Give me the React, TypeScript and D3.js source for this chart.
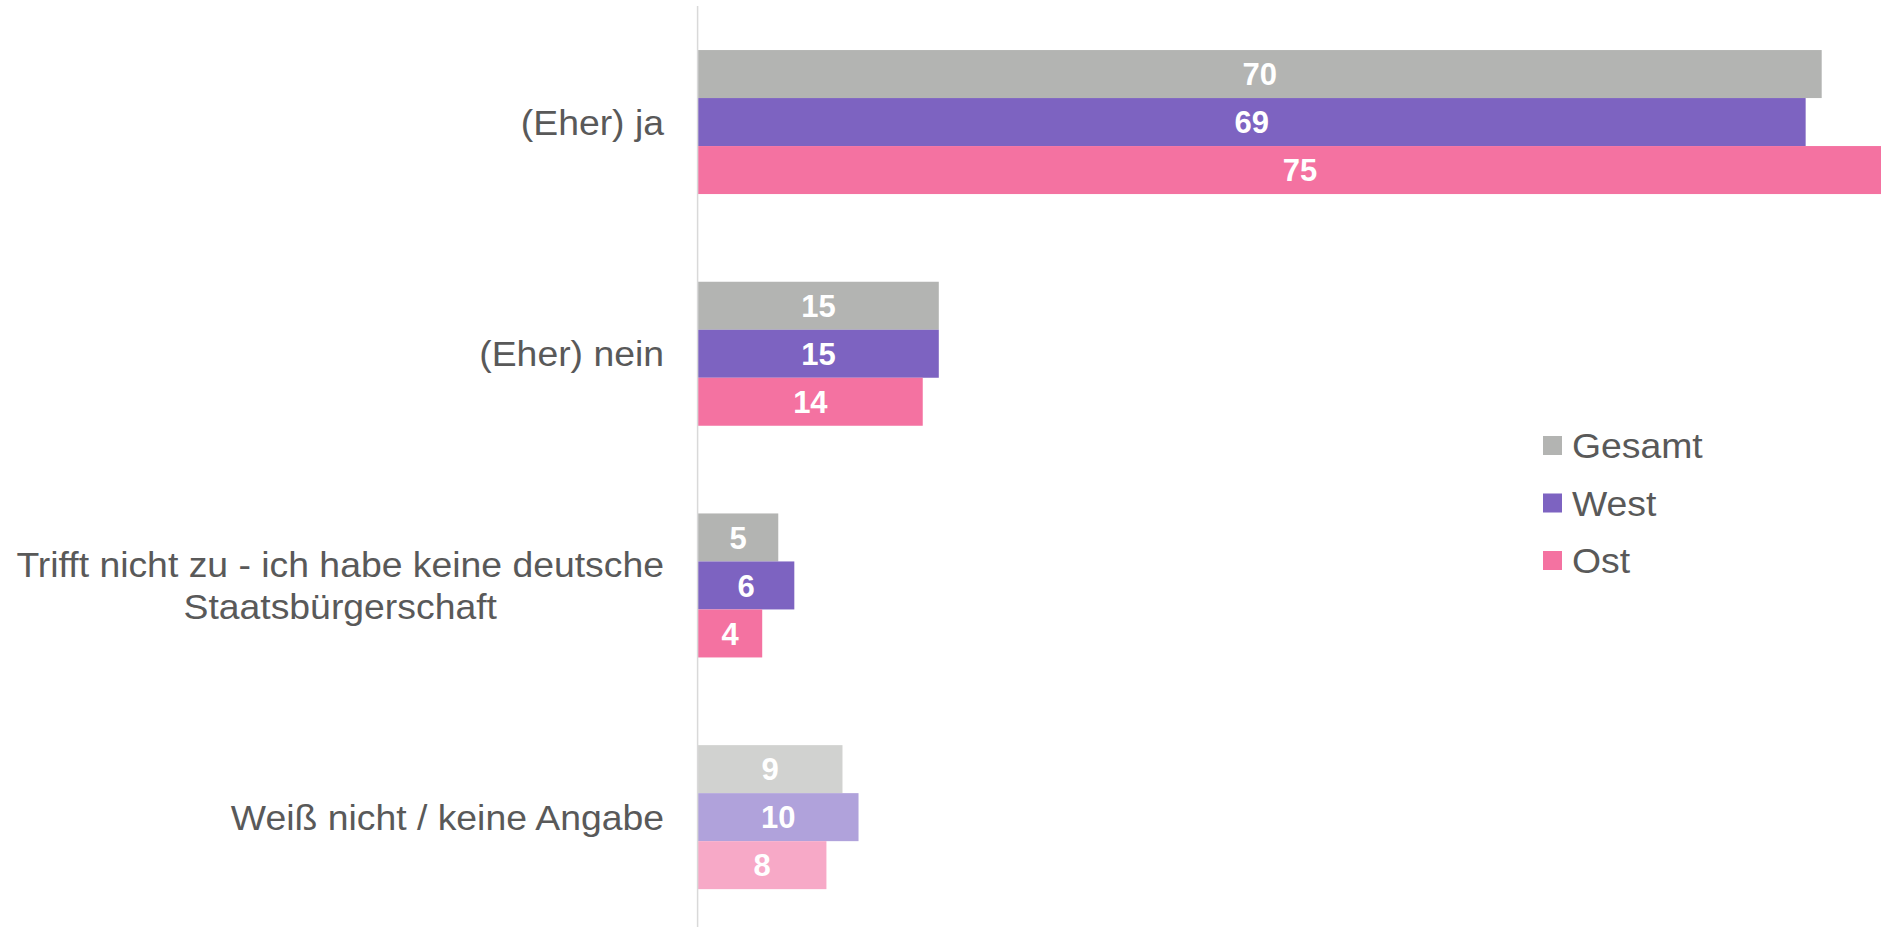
import React from "react";
import * as d3 from "d3";

const categories = [
  "(Eher) ja",
  "(Eher) nein",
  "Trifft nicht zu - ich habe keine deutsche\nStaatsbürgerschaft",
  "Weiß nicht / keine Angabe",
];
const series = ["Gesamt", "West", "Ost"];
const gesamt = [70, 15, 5, 9];
const west = [69, 15, 6, 10];
const ost = [75, 14, 4, 8];
const values = [gesamt, west, ost];

const colors = ["#b3b4b2", "#7d63c1", "#f472a1"];
const lightColors = ["#d1d2d0", "#b0a2db", "#f7a9c7"];

const W = 1881;
const H = 927;
const SX = 1.067;

function stretch(ax: number) {
  return `translate(${ax},0) scale(${SX},1) translate(${-ax},0)`;
}

export default function App() {
  const x = d3.scaleLinear().domain([0, 70]).range([698, 1821.7]);
  const p = 0.3785;
  const y = d3
    .scaleBand<string>()
    .domain(categories)
    .range([6.2, 933])
    .paddingInner(p)
    .paddingOuter(p / 2);
  const ys = d3.scaleBand<string>().domain(series).range([0, y.bandwidth()]);
  const labelFs = 35;
  const valueFs = 31;
  const textColor = "#595959";

  const legendX = 1543;
  const legendY0 = 445.5;
  const legendStep = 57.5;
  const right = 664;

  return (
    <svg
      width={W}
      height={H}
      style={{ position: "absolute", left: 0, top: 0, display: "block" }}
      fontFamily="Liberation Sans, Arial, sans-serif"
    >
      <rect x={0} y={0} width={W} height={H} fill="#ffffff" />
      {categories.map((cat, ci) => {
        const g0 = y(cat)!;
        const isLast = ci === categories.length - 1;
        const lines = cat.split("\n");
        const cy = g0 + y.bandwidth() / 2;
        const lh = 42;
        return (
          <g key={cat}>
            {series.map((s, si) => {
              const v = values[si][ci];
              const by = g0 + ys(s)!;
              const bh = ys.bandwidth();
              const x0 = x(0);
              const x1 = x(v);
              return (
                <g key={s}>
                  <rect
                    x={x0}
                    y={by}
                    width={x1 - x0}
                    height={bh}
                    fill={isLast ? lightColors[si] : colors[si]}
                  />
                  <text
                    x={(x0 + x1) / 2}
                    y={by + bh / 2 + valueFs * 0.358}
                    textAnchor="middle"
                    fontSize={valueFs}
                    fontWeight="bold"
                    fill="#ffffff"
                  >
                    {v}
                  </text>
                </g>
              );
            })}
            <g transform={stretch(right)}>
              {lines.length === 1 ? (
                <text
                  x={right}
                  y={cy + labelFs * 0.358}
                  textAnchor="end"
                  fontSize={labelFs}
                  fill={textColor}
                >
                  {lines[0]}
                </text>
              ) : (
                <text
                  textAnchor="middle"
                  fontSize={labelFs}
                  fill={textColor}
                  ref={(el) => {
                    if (!el) return;
                    el.removeAttribute("transform");
                    const bb = el.getBBox();
                    const shift = right - (bb.x + bb.width);
                    el.setAttribute("transform", `translate(${shift},0)`);
                  }}
                >
                  {lines.map((ln, li) => (
                    <tspan
                      key={li}
                      x={0}
                      y={cy + labelFs * 0.358 + (li - (lines.length - 1) / 2) * lh}
                    >
                      {ln}
                    </tspan>
                  ))}
                </text>
              )}
            </g>
          </g>
        );
      })}
      <line x1={697.6} x2={697.6} y1={6} y2={H} stroke="#d9d9d9" strokeWidth={1.5} />
      {series.map((s, si) => {
        const cy = legendY0 + si * legendStep;
        const tx = legendX + 29;
        return (
          <g key={s}>
            <rect x={legendX} y={cy - 9.5} width={19} height={19} fill={colors[si]} />
            <text
              x={tx}
              y={cy + labelFs * 0.358}
              fontSize={labelFs}
              fill={textColor}
              transform={stretch(tx)}
            >
              {s}
            </text>
          </g>
        );
      })}
    </svg>
  );
}
